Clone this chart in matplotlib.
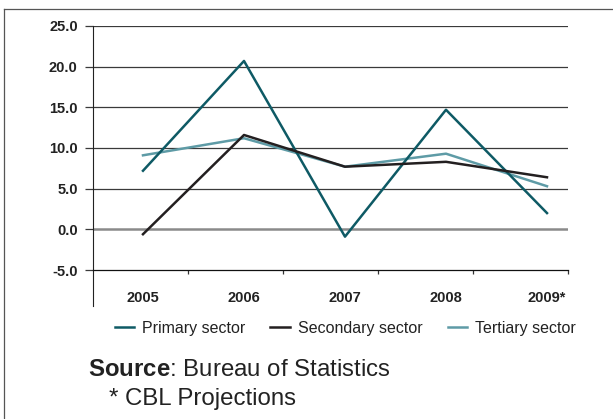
import numpy as np
import matplotlib
matplotlib.use("Agg")
import matplotlib.pyplot as plt
from matplotlib.lines import Line2D

plt.rcParams["font.family"] = ["Liberation Sans", "DejaVu Sans"]
plt.rcParams["mathtext.fontset"] = "custom"
plt.rcParams["mathtext.rm"] = "Liberation Sans"
plt.rcParams["mathtext.bf"] = "Liberation Sans:bold"

years = ["2005", "2006", "2007", "2008", "2009*"]
primary = [7.2, 20.7, -0.9, 14.7, 2.0]
secondary = [-0.6, 11.6, 7.7, 8.3, 6.4]
tertiary = [9.1, 11.2, 7.7, 9.3, 5.3]
y_ticks = [-5.0, 0.0, 5.0, 10.0, 15.0, 20.0, 25.0]

PRIMARY_C = "#0e5a65"
SECONDARY_C = "#231f20"
TERTIARY_C = "#5e9ba6"
TEXT_C = "#222222"

fig = plt.figure(figsize=(6.13, 4.19), dpi=100)
ax = fig.add_axes([0.1517, 0.3556, 0.7749, 0.5824])

x = np.arange(len(years))
xmin, xmax = -0.495, 4.208
ax.set_xlim(xmin, xmax)
ax.set_ylim(-5, 25)

# gridlines, zero line drawn lighter and heavier
for v in y_ticks[2:]:
    ax.axhline(v, color="#3a3a3a", lw=0.9, zorder=1)
ax.axhline(0, color="#8a8a8a", lw=1.8, zorder=1)

ax.plot(x, primary, color=PRIMARY_C, lw=1.8, zorder=3, label="Primary sector")
ax.plot(x, secondary, color=SECONDARY_C, lw=1.8, zorder=3, label="Secondary sector")
ax.plot(x, tertiary, color=TERTIARY_C, lw=1.8, zorder=2, label="Tertiary sector")

for side in ["top", "right"]:
    ax.spines[side].set_visible(False)
ax.spines["bottom"].set_color("#111111")
ax.spines["bottom"].set_linewidth(0.9)
ax.spines["left"].set_color("#222222")
ax.spines["left"].set_linewidth(0.8)
# left axis line runs down past the category labels
ax.add_line(Line2D([0, 0], [0, -0.148], transform=ax.transAxes, color="#222222",
                   lw=0.8, clip_on=False))

ax.set_yticks(y_ticks)
ax.set_yticklabels([f"{v:.1f}" for v in y_ticks], fontsize=10.5, fontweight="bold",
                   color=TEXT_C)
ax.tick_params(axis="y", length=6, width=0.9, color="#3a3a3a", pad=5)

ax.set_xticks(x)
ax.set_xticklabels(years, fontsize=10.5, fontweight="bold", color=TEXT_C)
ax.tick_params(axis="x", which="major", length=0, pad=15)
ax.set_xticks(np.linspace(xmin, xmax, 6)[1:], minor=True)
ax.tick_params(axis="x", which="minor", length=3, width=0.9, color="#333333",
               direction="out")

fig.legend(loc="center", bbox_to_anchor=(0.563, 0.217), ncol=3, frameon=False,
           fontsize=11.5, handlelength=1.2, handletextpad=0.5, columnspacing=1.6,
           labelcolor=TEXT_C)

fig.text(0.144, 0.117, r"$\mathbf{Source}$: Bureau of Statistics", fontsize=17.3,
         color=TEXT_C, va="center")
fig.text(0.178, 0.047, "* CBL Projections", fontsize=17.3, color=TEXT_C, va="center")

# outer frame lines
fig.add_artist(Line2D([0.007, 0.007], [0, 0.979], transform=fig.transFigure,
                      color="#555555", lw=0.9))
fig.add_artist(Line2D([0.007, 1.0], [0.979, 0.979], transform=fig.transFigure,
                      color="#555555", lw=0.9))

fig.savefig("out.png", dpi=100)
